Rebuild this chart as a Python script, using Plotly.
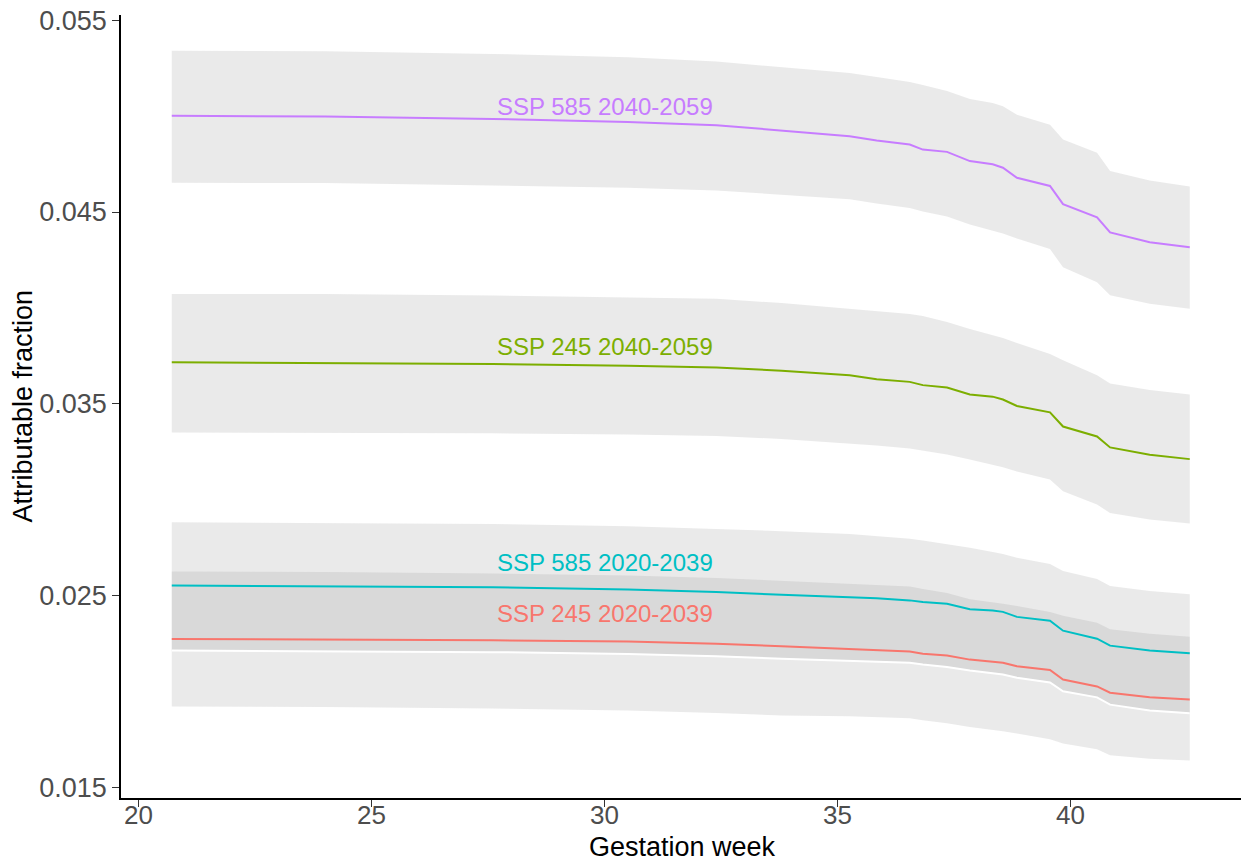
import plotly.graph_objects as go

# Gestation week grid
weeks = [20.71, 24.0, 27.6, 30.5, 32.4, 33.8, 35.26, 35.84, 36.55, 36.83, 37.35,
         37.84, 38.33, 38.55, 38.85, 39.56, 39.84, 40.57, 40.85, 41.70, 42.56]

# SSP 585 2040-2059
p585_40_mid = [0.05002, 0.04999, 0.04986, 0.04970, 0.04953, 0.04924, 0.04896, 0.04873, 0.04852, 0.04826, 0.04814,
               0.04766, 0.04749, 0.04731, 0.04679, 0.04636, 0.04541, 0.04472, 0.04394, 0.04342, 0.04316]
p585_40_hi = [0.05342, 0.05339, 0.05325, 0.05308, 0.05285, 0.05256, 0.05225, 0.05204, 0.05178, 0.05163, 0.05131,
              0.05090, 0.05069, 0.05052, 0.05008, 0.04956, 0.04878, 0.04809, 0.04714, 0.04664, 0.04633]
p585_40_lo = [0.04653, 0.04651, 0.04639, 0.04627, 0.04613, 0.04591, 0.04567, 0.04544, 0.04521, 0.04503, 0.04477,
              0.04435, 0.04404, 0.04388, 0.04362, 0.04307, 0.04212, 0.04134, 0.04066, 0.04021, 0.03995]

# SSP 245 2040-2059
p245_40_mid = [0.03716, 0.03713, 0.03707, 0.03698, 0.03689, 0.03672, 0.03649, 0.03628, 0.03614, 0.03597, 0.03585,
               0.03548, 0.03537, 0.03522, 0.03488, 0.03455, 0.03381, 0.03329, 0.03272, 0.03234, 0.03211]
p245_40_hi = [0.04073, 0.04072, 0.04064, 0.04056, 0.04047, 0.04025, 0.03995, 0.03983, 0.03968, 0.03957, 0.03926,
              0.03890, 0.03859, 0.03843, 0.03817, 0.03760, 0.03727, 0.03649, 0.03606, 0.03571, 0.03548]
p245_40_lo = [0.03350, 0.03348, 0.03346, 0.03339, 0.03332, 0.03316, 0.03294, 0.03282, 0.03266, 0.03256, 0.03235,
              0.03209, 0.03183, 0.03168, 0.03147, 0.03104, 0.03043, 0.02974, 0.02930, 0.02896, 0.02875]

# SSP 585 2020-2039
p585_20_mid = [0.02552, 0.02549, 0.02542, 0.02531, 0.02518, 0.02503, 0.02492, 0.02485, 0.02474, 0.02466, 0.02456,
               0.02428, 0.02421, 0.02414, 0.02388, 0.02368, 0.02316, 0.02274, 0.02238, 0.02212, 0.02198]
p585_20_hi = [0.02882, 0.02879, 0.02872, 0.02861, 0.02848, 0.02835, 0.02820, 0.02809, 0.02796, 0.02786, 0.02768,
              0.02748, 0.02726, 0.02716, 0.02696, 0.02664, 0.02627, 0.02586, 0.02549, 0.02523, 0.02506]
p585_20_lo = [0.02212, 0.02210, 0.02204, 0.02194, 0.02183, 0.02170, 0.02160, 0.02155, 0.02149, 0.02139, 0.02126,
              0.02108, 0.02095, 0.02087, 0.02070, 0.02046, 0.02000, 0.01968, 0.01930, 0.01900, 0.01885]

# SSP 245 2020-2039
p245_20_mid = [0.02273, 0.02271, 0.02266, 0.02259, 0.02248, 0.02235, 0.02222, 0.02214, 0.02207, 0.02196, 0.02186,
               0.02165, 0.02156, 0.02149, 0.02130, 0.02111, 0.02061, 0.02025, 0.01992, 0.01969, 0.01957]
p245_20_hi = [0.02625, 0.02622, 0.02614, 0.02604, 0.02591, 0.02575, 0.02562, 0.02555, 0.02547, 0.02534, 0.02513,
              0.02480, 0.02466, 0.02456, 0.02445, 0.02414, 0.02394, 0.02357, 0.02324, 0.02300, 0.02284]
p245_20_lo = [0.01921, 0.01918, 0.01910, 0.01900, 0.01887, 0.01874, 0.01869, 0.01864, 0.01859, 0.01848, 0.01833,
              0.01813, 0.01799, 0.01791, 0.01779, 0.01749, 0.01727, 0.01697, 0.01666, 0.01648, 0.01638]

series_names = ["SSP 245 2020-2039", "SSP 245 2040-2059", "SSP 585 2020-2039", "SSP 585 2040-2059"]
series_colors = ["#F8766D", "#7CAE00", "#00BFC4", "#C77CFF"]
label_x = [30.0, 30.0, 30.0, 30.0]
label_y = [0.02404, 0.03799, 0.02674, 0.05050]

x_ticks = [20, 25, 30, 35, 40]
x_tick_text = ["20", "25", "30", "35", "40"]
y_ticks = [0.015, 0.025, 0.035, 0.045, 0.055]
y_tick_text = ["0.015", "0.025", "0.035", "0.045", "0.055"]

mids = [p245_20_mid, p245_40_mid, p585_20_mid, p585_40_mid]
his = [p245_20_hi, p245_40_hi, p585_20_hi, p585_40_hi]
los = [p245_20_lo, p245_40_lo, p585_20_lo, p585_40_lo]

FONT = "Liberation Sans, Arial, sans-serif"
W, H = 1247, 866
ML, MR, MT, MB = 121, 6, 12, 68
PW, PH = W - ML - MR, H - MT - MB

fig = go.Figure()
band_fill = "rgba(150,150,150,0.2)"
for lo, hi in zip(los, his):
    fig.add_trace(go.Scatter(x=weeks, y=lo, mode="lines", line=dict(width=0, color="rgba(0,0,0,0)"),
                             hoverinfo="skip", showlegend=False))
    fig.add_trace(go.Scatter(x=weeks, y=hi, mode="lines", line=dict(width=0, color="rgba(0,0,0,0)"),
                             fill="tonexty", fillcolor=band_fill, hoverinfo="skip", showlegend=False))

# white edge line along the lower bound of the SSP 585 2020-2039 band
fig.add_trace(go.Scatter(x=weeks, y=p585_20_lo, mode="lines", line=dict(width=2, color="white"),
                         hoverinfo="skip", showlegend=False))

for name, col, mid in zip(series_names, series_colors, mids):
    fig.add_trace(go.Scatter(x=weeks, y=mid, mode="lines", name=name, line=dict(width=2, color=col),
                             showlegend=False))

for name, col, lx, ly in zip(series_names, series_colors, label_x, label_y):
    fig.add_annotation(x=lx, y=ly, text=name, showarrow=False, xanchor="center", yanchor="middle",
                       font=dict(family=FONT, size=24, color=col))

# x tick labels placed just under the axis
for tv, tt in zip(x_ticks, x_tick_text):
    fig.add_annotation(x=tv, xref="x", yref="paper", y=-(815 - (H - MB)) / PH, text=tt,
                       showarrow=False, xanchor="center", yanchor="middle",
                       font=dict(family=FONT, size=26, color="#4D4D4D"))

fig.add_annotation(xref="paper", yref="paper", x=(682 - ML) / PW, y=-(847 - (H - MB)) / PH,
                   text="Gestation week", showarrow=False, xanchor="center", yanchor="middle",
                   font=dict(family=FONT, size=27, color="black"))
fig.add_annotation(xref="paper", yref="paper", x=(22 - ML) / PW, y=0.5,
                   text="Attributable fraction", showarrow=False, textangle=-90,
                   xanchor="center", yanchor="middle",
                   font=dict(family=FONT, size=27, color="black"))

fig.update_layout(
    width=W, height=H,
    margin=dict(l=ML, r=MR, t=MT, b=MB),
    paper_bgcolor="white", plot_bgcolor="white",
    font=dict(family=FONT),
    showlegend=False,
)
fig.update_xaxes(range=[19.62, 43.66], tickvals=x_ticks, showticklabels=False, showgrid=False,
                 zeroline=False, showline=True, linecolor="black", linewidth=1.5, ticks="outside",
                 ticklen=7, tickcolor="#333333", tickwidth=1)
fig.update_yaxes(range=[0.01443, 0.05528], tickvals=y_ticks, ticktext=y_tick_text, showgrid=False,
                 zeroline=False, showline=True, linecolor="black", linewidth=1.5, ticks="outside",
                 ticklen=7, tickcolor="#333333", tickwidth=1, tickfont=dict(size=27, color="#4D4D4D"))

fig.write_html("out.html", config={"displayModeBar": False})

# remove the browser's default page margin so the figure sits at the window origin
with open("out.html", "r", encoding="utf-8") as f:
    html = f.read()
html = html.replace("<head>", "<head><style>html,body{margin:0;padding:0;overflow:hidden;}</style>", 1)
with open("out.html", "w", encoding="utf-8") as f:
    f.write(html)
